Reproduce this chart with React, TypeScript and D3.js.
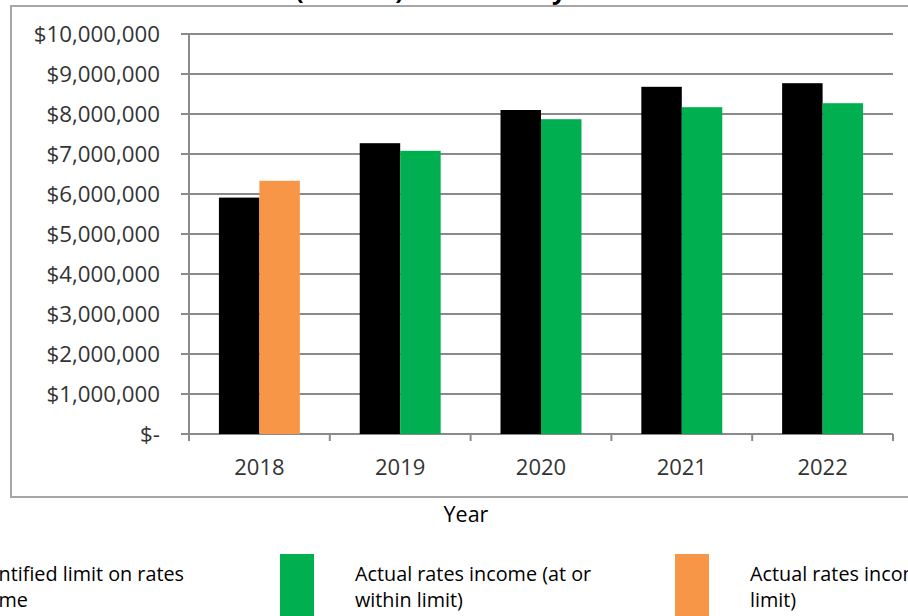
import React from "react";
import * as d3 from "d3";

const years = ["2018", "2019", "2020", "2021", "2022"];
const limitValues = [5910000, 7270000, 8100000, 8680000, 8770000];
const withinValues: (number | null)[] = [null, 7080000, 7870000, 8170000, 8270000];
const exceededValues: (number | null)[] = [6330000, null, null, null, null];
const yTickValues = [0, 1000000, 2000000, 3000000, 4000000, 5000000, 6000000, 7000000, 8000000, 9000000, 10000000];
const seriesNames = ["limit", "actual"];
const legendItems = [
  { lines: ["Quantified limit on rates", "income"], color: "#000000" },
  { lines: ["Actual rates income (at or", "within limit)"], color: "#00b050" },
  { lines: ["Actual rates income (exceeds", "limit)"], color: "#f79646" },
];
const titleText = "Rates (income) affordability";
const xTitle = "Year";

const W = 908;
const H = 616;
const plotLeft = 189;
const plotRight = 893;
const plotTop = 34;
const plotBottom = 434;
const FONT = "'Open Sans', 'Noto Sans', sans-serif";
const GRID = "#8a8a8a";

export default function App() {
  const y = d3.scaleLinear().domain([0, 10000000]).range([plotBottom, plotTop]);
  const x0 = d3.scaleBand<string>().domain(years).range([plotLeft, plotRight]).padding(0);
  const groupW = x0.bandwidth() * 0.575;
  const x1 = d3.scaleBand<string>().domain(seriesNames).range([0, groupW]).padding(0);
  const fmt = d3.format("$,");
  const label = (v: number) => (v === 0 ? "$-" : fmt(v));
  const bandEdges = [...years.map((yr) => x0(yr) as number), plotRight];

  return (
    <svg
      width={W}
      height={H}
      viewBox={`0 0 ${W} ${H}`}
      style={{ position: "absolute", left: 0, top: 0, background: "#fff" }}
    >
      <rect x={0} y={0} width={W} height={H} fill="#fff" />
      <text x={219} y={-1} fontFamily={FONT} fontWeight={700} fontSize={25} fill="#000">
        {titleText}
      </text>
      <rect x={11} y={6} width={1000} height={491} fill="none" stroke="#a6a6a6" strokeWidth={2} />

      {yTickValues.map((v) => (
        <g key={v}>
          <line x1={181} x2={plotRight} y1={y(v)} y2={y(v)} stroke={GRID} strokeWidth={2} />
          <text
            x={160}
            y={y(v)}
            dy="0.36em"
            textAnchor="end"
            fontFamily={FONT}
            fontSize={22.3}
            fill="#333"
          >
            {label(v)}
          </text>
        </g>
      ))}
      <line x1={plotLeft} x2={plotLeft} y1={plotTop} y2={plotBottom + 7} stroke={GRID} strokeWidth={2} />
      {bandEdges.map((e, i) => (
        <line key={i} x1={e} x2={e} y1={plotBottom} y2={plotBottom + 7} stroke={GRID} strokeWidth={2} />
      ))}

      {years.map((yr, i) => {
        const gx = (x0(yr) as number) + (x0.bandwidth() - groupW) / 2;
        const lim = limitValues[i];
        const act = withinValues[i] != null ? (withinValues[i] as number) : (exceededValues[i] as number);
        const actColor = withinValues[i] != null ? legendItems[1].color : legendItems[2].color;
        return (
          <g key={yr}>
            <rect
              x={gx + (x1("limit") as number)}
              y={y(lim)}
              width={x1.bandwidth()}
              height={plotBottom - y(lim)}
              fill={legendItems[0].color}
            />
            <rect
              x={gx + (x1("actual") as number)}
              y={y(act)}
              width={x1.bandwidth()}
              height={plotBottom - y(act)}
              fill={actColor}
            />
            <text
              x={(x0(yr) as number) + x0.bandwidth() / 2}
              y={475}
              textAnchor="middle"
              fontFamily={FONT}
              fontSize={22}
              fill="#333"
            >
              {yr}
            </text>
          </g>
        );
      })}

      <text x={466} y={522} textAnchor="middle" fontFamily={FONT} fontSize={21.5} fill="#000">
        {xTitle}
      </text>

      {legendItems.map((it, i) => {
        const sx = -115 + i * 395;
        return (
          <g key={i}>
            <rect x={sx} y={554} width={34} height={70} fill={it.color} />
            {it.lines.map((ln, j) => (
              <text key={j} x={sx + 75} y={581 + j * 26} fontFamily={FONT} fontSize={19.8} fill="#000">
                {ln}
              </text>
            ))}
          </g>
        );
      })}
    </svg>
  );
}
